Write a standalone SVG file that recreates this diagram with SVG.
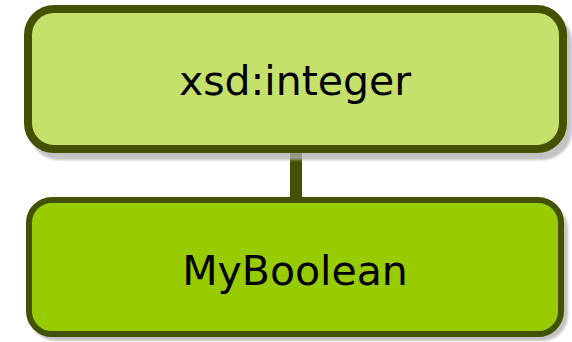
<svg xmlns="http://www.w3.org/2000/svg" width="572" height="342" viewBox="0 0 572 342">
<defs>
<filter id="soft" x="-5%" y="-5%" width="110%" height="110%"><feGaussianBlur stdDeviation="1"/></filter>
</defs>
<style>
.shadow{fill:#b0b0b0;opacity:0.75;filter:url(#soft)}
.box{stroke:#435200}
.label{font-family:"DejaVu Sans",Verdana,sans-serif;font-size:41px;fill:#000;text-anchor:middle}
.conn{stroke:#435200;stroke-width:12;fill:none}
</style>
<rect width="572" height="342" fill="#ffffff"/>
<g id="connectors">
<line class="conn" x1="296" y1="150" x2="296" y2="200"/>
</g>
<g id="node-xsd-integer">
<rect class="shadow" x="29" y="12" width="543" height="148" rx="30"/>
<rect class="box" x="28" y="9" width="535" height="140" rx="26" fill="#c5e06b" stroke-width="8"/>
<text class="label" x="295" y="95">xsd:integer</text>
</g>
<g id="node-myboolean">
<rect class="shadow" x="30" y="203" width="538" height="138" rx="26"/>
<rect class="box" x="29" y="200" width="532" height="134" rx="23" fill="#99cc00" stroke-width="6"/>
<text class="label" x="295" y="285">MyBoolean</text>
</g>
</svg>
